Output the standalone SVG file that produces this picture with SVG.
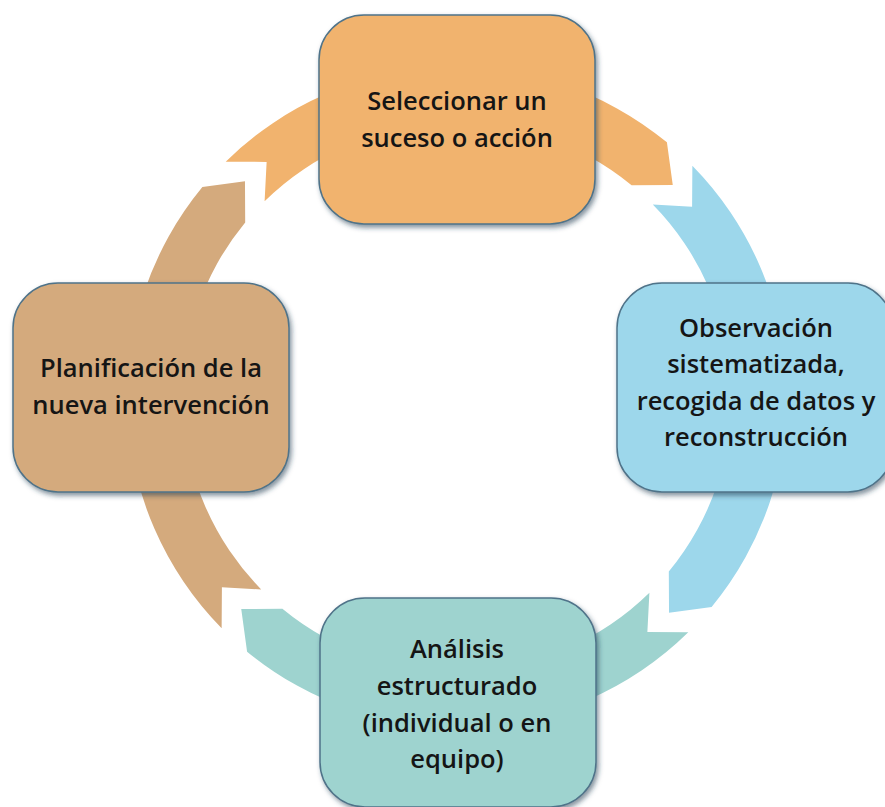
<svg xmlns="http://www.w3.org/2000/svg" width="885" height="807" viewBox="0 0 885 807">
<defs>
<filter id="sh" x="-10%" y="-10%" width="125%" height="125%">
<feDropShadow dx="2" dy="3" stdDeviation="2.5" flood-color="#1d3a50" flood-opacity="0.55"/>
</filter>
</defs>
<style>
.box{stroke:#4f7389;stroke-width:1.5;filter:url(#sh)}
.t{font-family:"Open Sans","Noto Sans","DejaVu Sans",sans-serif;font-size:25.5px;font-weight:600;fill:#151515;text-anchor:middle}
.or{fill:#F1B36E}.bl{fill:#9DD7EB}.te{fill:#9ED3CF}.tn{fill:#D4AA7D}
</style>
<rect width="885" height="807" fill="#fff"/>
<g id="connectors">
<path class="or" d="M225.70,161.63 L266.63,161.91 L264.60,201.21 A274.5,274.5 0 0 1 631.60,185.19 L672.76,184.97 L666.91,142.37 A330,330 0 0 0 225.70,161.63 Z"/>
<path class="bl" d="M692.37,165.70 L692.09,206.63 L652.79,204.60 A274.5,274.5 0 0 1 668.81,571.60 L669.03,612.76 L711.63,606.91 A330,330 0 0 0 692.37,165.70 Z"/>
<path class="te" d="M688.30,632.37 L647.37,632.09 L649.40,592.79 A274.5,274.5 0 0 1 282.40,608.81 L241.24,609.03 L247.09,651.63 A330,330 0 0 0 688.30,632.37 Z"/>
<path class="tn" d="M221.63,628.30 L221.91,587.37 L261.21,589.40 A274.5,274.5 0 0 1 245.19,222.40 L244.97,181.24 L202.37,187.09 A330,330 0 0 0 221.63,628.30 Z"/>
</g>
<g id="n1">
<rect class="box or" x="319" y="15" width="276" height="209" rx="45"/>
<text class="t" x="457" y="110">Seleccionar un</text>
<text class="t" x="457" y="147">suceso o acción</text>
</g>
<g id="n2">
<rect class="box bl" x="617" y="283" width="276" height="209" rx="45"/>
<text class="t" x="756" y="337">Observación</text>
<text class="t" x="756" y="373">sistematizada,</text>
<text class="t" x="756" y="409.5">recogida de datos y</text>
<text class="t" x="756" y="446">reconstrucción</text>
</g>
<g id="n3">
<rect class="box te" x="320" y="598" width="276" height="209" rx="45"/>
<text class="t" x="457" y="658">Análisis</text>
<text class="t" x="457" y="695">estructurado</text>
<text class="t" x="457" y="731.5">(individual o en</text>
<text class="t" x="457" y="768">equipo)</text>
</g>
<g id="n4">
<rect class="box tn" x="13" y="283" width="276" height="209" rx="45"/>
<text class="t" x="151" y="377">Planificación de la</text>
<text class="t" x="151" y="414">nueva intervención</text>
</g>
</svg>
